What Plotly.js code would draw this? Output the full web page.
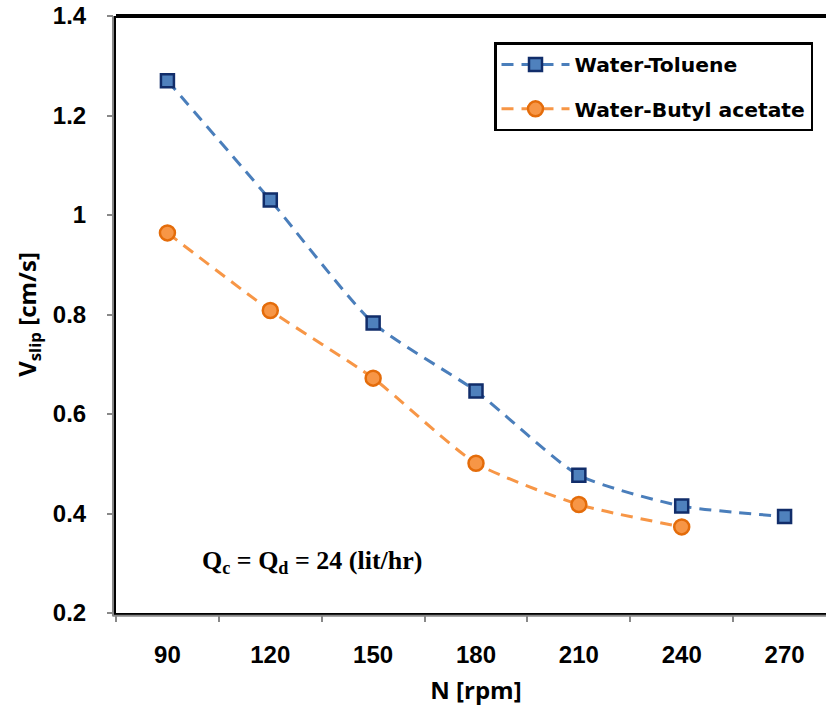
<!DOCTYPE html>
<html><head><meta charset="utf-8">
<script src="https://cdn.plot.ly/plotly-3.0.1.min.js"></script>
<style>html,body{margin:0;padding:0;overflow:hidden;background:#fff}#chart{width:850px;height:717px}</style>
</head><body><div id="chart"></div>
<script>
const categories = ['90','120','150','180','210','240','270'];
const tolueneNames = ['90','120','150','180','210','240','270'];
const tolueneVslip = [1.27, 1.03, 0.783, 0.646, 0.477, 0.415, 0.394];
const butylNames = ['90','120','150','180','210','240'];
const butylVslip = [0.964, 0.808, 0.672, 0.501, 0.418, 0.373];
const yTicks = [0.2, 0.4, 0.6, 0.8, 1, 1.2, 1.4];

const tickFont = 'Liberation Sans Narrow, Arial Narrow, Liberation Sans, sans-serif';
const titleFont = 'Open Sans, Lato, sans-serif';
const traces = [
  {x: tolueneNames, y: tolueneVslip, name: 'Water-Toluene', legendgroup: 'a', type: 'scatter', mode: 'lines+markers',
   line: {color: '#4A7EBB', width: 3, dash: '12px,8px', shape: 'spline', smoothing: 0.6},
   marker: {symbol: 'square', size: 13, color: '#4F81BD', line: {color: '#112D6A', width: 2.5}}},
  {x: butylNames, y: butylVslip, name: 'Water-Butyl acetate', legendgroup: 'b', type: 'scatter', mode: 'lines+markers',
   line: {color: '#F79646', width: 3, dash: '12px,8px', shape: 'spline', smoothing: 0.6},
   marker: {symbol: 'circle', size: 15, color: '#F79646', line: {color: '#E46C0A', width: 2.5}}}
];
const layout = {
  width: 850, height: 717,
  margin: {l: 116, r: 14, t: 16, b: 104},
  paper_bgcolor: '#fff', plot_bgcolor: '#fff',
  showlegend: true,
  legend: {x: 0.525, y: 0.956, xanchor: 'left', yanchor: 'top', bgcolor: '#fff',
           bordercolor: '#000', borderwidth: 2.5, itemwidth: 68,
           font: {family: 'DejaVu Sans, sans-serif', size: 20.3, color: '#000', weight: 'bold'},
           tracegroupgap: 15},
  xaxis: {type: 'category', categoryorder: 'array', categoryarray: categories, range: [-0.5, 6.5],
          tickson: 'boundaries', ticks: 'outside', ticklen: 6, tickwidth: 2, tickcolor: '#888',
          showline: true, linecolor: '#000', linewidth: 3, mirror: false, showgrid: false, zeroline: false,
          tickfont: {family: tickFont, size: 24, color: '#000', weight: 'bold'}, ticklabelstandoff: 18,
          title: {text: '<b>N [rpm]</b>', font: {family: titleFont, size: 24, color: '#000', weight: 'bold'}, standoff: 16}},
  yaxis: {range: [0.2, 1.4], tickvals: yTicks, ticktext: yTicks.map(String),
          ticks: 'outside', ticklen: 6, tickwidth: 2, tickcolor: '#888',
          showline: true, linecolor: '#000', linewidth: 3, showgrid: false, zeroline: false,
          tickfont: {family: tickFont, size: 24, color: '#000', weight: 'bold'}, ticklabelstandoff: 16,
          title: {text: '<b>V<sub>slip</sub> [cm/s]</b>', font: {family: titleFont, size: 24, color: '#000', weight: 'bold'}, standoff: 10}},
  shapes: [
    {type: 'line', xref: 'paper', yref: 'paper', x0: 0, x1: 1, y0: 1, y1: 1, line: {color: '#000', width: 4}},
    {type: 'line', xref: 'paper', yref: 'paper', x0: -0.0042, x1: -0.0042, y0: -0.005, y1: 1, line: {color: '#888', width: 2}},
    {type: 'line', xref: 'paper', yref: 'paper', x0: -0.005, x1: 1, y0: -0.0045, y1: -0.0045, line: {color: '#888', width: 2}}
  ],
  annotations: [
    {xref: 'paper', yref: 'paper', x: 0.272, y: 0.085, xanchor: 'center', yanchor: 'middle', showarrow: false,
     text: '<b>Q<sub>c</sub> = Q<sub>d</sub> = 24 (lit/hr)</b>',
     font: {family: 'Liberation Serif, Times New Roman, serif', size: 26, color: '#000'}}
  ]
};
Plotly.newPlot('chart', traces, layout, {displayModeBar: false, staticPlot: true});
</script></body></html>
